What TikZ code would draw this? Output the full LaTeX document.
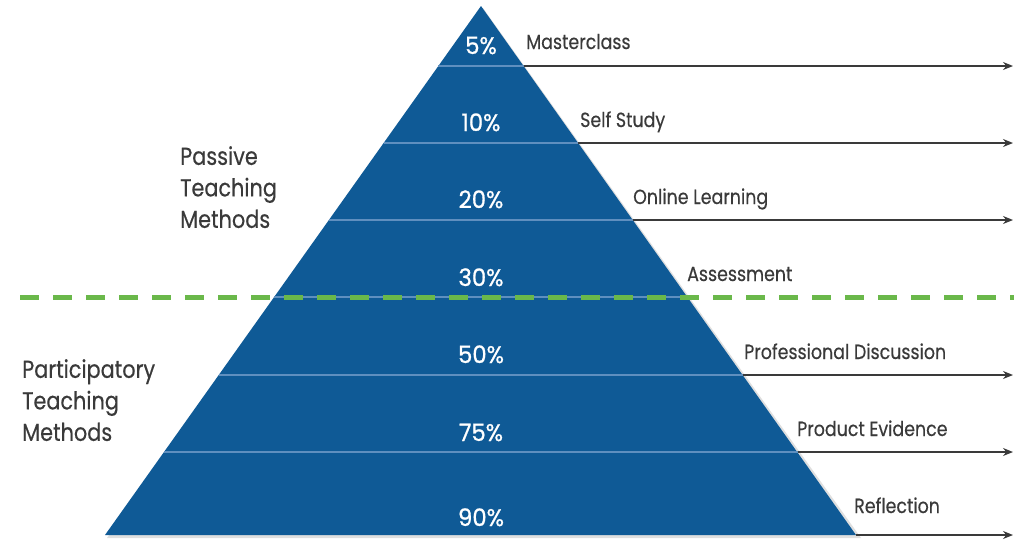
\documentclass[tikz,border=0pt]{standalone}
\usepackage{fontspec}
\setmainfont{Poppins}[FakeStretch=0.85, FakeBold=0.4]
\newfontfamily\pctfont{Poppins}[FakeStretch=0.95, FakeBold=0.8]
\usetikzlibrary{arrows.meta}
\definecolor{pyrblue}{HTML}{0F5A96}
\definecolor{sepblue}{HTML}{5F8FBF}
\definecolor{dashgreen}{HTML}{6AB84A}
\definecolor{txtgray}{HTML}{3A3A3A}
\tikzset{
  bandline/.style={draw=sepblue, line width=1.2pt},
  levelarrow/.style={draw=txtgray, line width=1.4pt, -{Stealth[length=10pt,width=8pt]}},
  pct/.style={text=white, font=\pctfont\fontsize{24}{28}\selectfont, anchor=base, inner sep=0pt},
  bandlabel/.style={text=txtgray, font=\fontsize{20.5}{24}\selectfont, anchor=base west, inner sep=0pt},
  sidelabel/.style={text=txtgray, font=\fontsize{24.5}{31.5}\selectfont, align=left, anchor=north west, inner sep=0pt},
  divider/.style={draw=dashgreen, line width=5pt, dash pattern=on 19pt off 14pt}
}
\begin{document}
\begin{tikzpicture}[x=1pt,y=-1pt]
\useasboundingbox (0,0) rectangle (1014,539);
% geometry
\coordinate (apex) at (481,6);
\coordinate (bl) at (105,535);
\coordinate (br) at (856,535);
% shadow
\fill[black!25, opacity=0.5] (483,8) -- (861,538) -- (107,538) -- cycle;
\fill[pyrblue] (apex) -- (br) -- (bl) -- cycle;
% edge points (left L, right R) at each level
\foreach \n/\y in {1/66,2/143,3/220,4/297,5/375,6/452}{
  \coordinate (L\n) at ({481-0.7098*(\y-6)},\y);
  \coordinate (R\n) at ({481+0.7098*(\y-6)},\y);
  \coordinate (E\n) at (1013,\y);
}
\coordinate (R7) at (br);
\coordinate (E7) at (1013,535);
\foreach \n in {1,2,3,4,5,6}{
  \draw[bandline] (L\n) -- (R\n);
}
% arrows
\foreach \n in {1,2,3,5,6,7}{
  \draw[levelarrow] (R\n) -- (E\n);
}
% dashed divider
\coordinate (D1) at (20,297);
\coordinate (D2) at (1014,297);
\draw[divider] (D1) -- (D2);
% percentages
\node[pct] (p1) at (481,54) {5\%};
\node[pct] (p2) at (481,131) {10\%};
\node[pct] (p3) at (481,208) {20\%};
\node[pct] (p4) at (481,286) {30\%};
\node[pct] (p5) at (481,363) {50\%};
\node[pct] (p6) at (481,441) {75\%};
\node[pct] (p7) at (481,526) {90\%};
% band labels
\node[bandlabel] (b1) at (526,49) {Masterclass};
\node[bandlabel] (b2) at (580,127) {Self Study};
\node[bandlabel] (b3) at (633,204) {Online Learning};
\node[bandlabel] (b4) at (687,281) {Assessment};
\node[bandlabel] (b5) at (744,359) {Professional Discussion};
\node[bandlabel] (b6) at (797,436) {Product Evidence};
\node[bandlabel] (b7) at (854,513) {Reflection};
% side labels
\node[sidelabel] (s1) at (180,146) {Passive\\Teaching\\Methods};
\node[sidelabel] (s2) at (22,359) {Participatory\\Teaching\\Methods};
\end{tikzpicture}
\end{document}
